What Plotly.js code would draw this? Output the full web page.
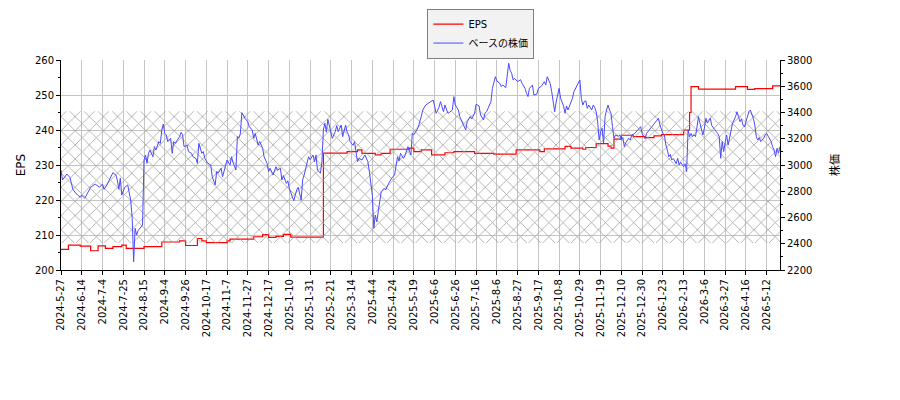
<!DOCTYPE html>
<html>
<head>
<meta charset="utf-8">
<script src="https://cdn.plot.ly/plotly-3.0.1.min.js"></script>
<style>
  html, body { margin: 0; padding: 0; background: #fff; }
  #chart { width: 900px; height: 400px; }
</style>
</head>
<body>
<div id="chart"></div>
<script>
/* ---- tick labels (one every 14 trading days) ---- */
const tickLabels = [
  "2024-5-27", "2024-6-14", "2024-7-4", "2024-7-25", "2024-8-15", "2024-9-4",
  "2024-9-26", "2024-10-17", "2024-11-7", "2024-11-27", "2024-12-17", "2025-1-10",
  "2025-1-31", "2025-2-21", "2025-3-14", "2025-4-4", "2025-4-24", "2025-5-19",
  "2025-6-6", "2025-6-26", "2025-7-16", "2025-8-6", "2025-8-27", "2025-9-17",
  "2025-10-8", "2025-10-29", "2025-11-19", "2025-12-10", "2025-12-30", "2026-1-23",
  "2026-2-13", "2026-3-6", "2026-3-27", "2026-4-16", "2026-5-12"
];
const tickStep = 14;
const lastDay = 485;

/* ---- stock price (trading day index, yen) ---- */
const priceDay = [
  0, 1, 4, 6, 8, 10, 13, 14, 16, 18, 20, 23, 25, 26, 28, 29, 31, 34, 35, 37,
  38, 39, 40, 41, 43, 45, 46, 47, 48, 49, 50, 51, 52, 54, 55, 56, 57, 58, 59, 60,
  62, 63, 64, 66, 67, 68, 69, 70, 71, 72, 74, 75, 76, 77, 80, 81, 82, 83, 85, 86,
  88, 89, 91, 92, 93, 95, 96, 97, 99, 101, 102, 104, 105, 106, 108, 109, 111, 112, 114, 115,
  116, 118, 119, 120, 121, 122, 124, 126, 127, 129, 130, 131, 133, 134, 136, 137, 139, 140, 141, 143,
  145, 146, 148, 149, 150, 152, 153, 154, 156, 157, 159, 160, 162, 163, 164, 166, 167, 168, 170, 171,
  172, 173, 175, 176, 177, 178, 179, 180, 181, 183, 185, 186, 187, 189, 190, 192, 193, 194, 195, 196,
  197, 198, 200, 201, 203, 205, 207, 208, 209, 210, 211, 212, 213, 215, 216, 218, 219, 221, 223, 225,
  226, 227, 228, 229, 231, 232, 234, 235, 236, 237, 238, 240, 241, 243, 244, 246, 248, 250, 251, 252,
  253, 255, 256, 258, 259, 261, 262, 264, 265, 266, 268, 269, 271, 273, 274, 276, 277, 279, 280, 282,
  283, 285, 286, 287, 288, 290, 291, 293, 294, 296, 297, 298, 300, 301, 302, 303, 304, 305, 306, 308,
  310, 311, 313, 314, 315, 316, 317, 318, 319, 321, 322, 324, 326, 327, 328, 330, 331, 332, 333, 334,
  335, 336, 337, 339, 340, 341, 342, 343, 345, 346, 347, 349, 350, 351, 352, 353, 354, 355, 356, 358,
  359, 360, 361, 362, 363, 364, 365, 366, 367, 368, 369, 370, 371, 372, 373, 374, 376, 377, 378, 379,
  380, 381, 383, 384, 385, 387, 389, 391, 392, 393, 394, 395, 397, 398, 400, 402, 403, 404, 405, 406,
  407, 408, 409, 410, 411, 412, 413, 414, 415, 416, 417, 418, 419, 420, 421, 422, 423, 424, 425, 426,
  427, 428, 429, 430, 431, 432, 433, 434, 435, 436, 438, 439, 440, 441, 442, 443, 444, 445, 446, 447,
  448, 449, 450, 451, 452, 453, 455, 456, 457, 458, 459, 460, 461, 463, 464, 465, 466, 467, 468, 469,
  470, 471, 472, 474, 475, 476, 477, 478, 479, 480, 481, 482, 483, 484, 485
];
const price = [
  2962, 2886, 2931, 2906, 2815, 2784, 2754, 2771, 2746, 2784, 2830, 2855, 2840, 2830, 2855, 2815, 2848, 2916, 2941, 2924,
  2886, 2815, 2899, 2771, 2830, 2848, 2797, 2733, 2600, 2263, 2518, 2467, 2500, 2535, 2543, 3038, 3076, 3013, 3089, 3114,
  3063, 3140, 3114, 3178, 3165, 3267, 3312, 3241, 3229, 3178, 3203, 3089, 3178, 3165, 3216, 3249, 3230, 3140, 3152, 3102,
  3089, 3063, 3050, 3013, 3165, 3089, 3102, 3051, 3013, 3000, 2911, 2848, 2950, 2937, 2975, 2911, 2987, 3038, 3000, 3063,
  3020, 2962, 3216, 3205, 3241, 3399, 3356, 3330, 3292, 3267, 3203, 3241, 3152, 3180, 3127, 3063, 3013, 2950, 2975, 2924,
  2987, 2960, 2975, 2886, 2920, 2860, 2880, 2822, 2759, 2728, 2810, 2830, 2733, 2886, 2924, 3013, 3063, 3040, 3076, 3025,
  3076, 2962, 2937, 3025, 3267, 3318, 3250, 3348, 3300, 3203, 3254, 3300, 3254, 3305, 3216, 3305, 3250, 3230, 3178, 3165,
  3150, 3178, 3025, 3050, 3038, 3076, 3025, 2950, 2873, 2771, 2518, 2619, 2568, 2720, 2797, 2822, 2810, 2860, 2899, 2924,
  3000, 3063, 3030, 3089, 3051, 3070, 3140, 3110, 3076, 3241, 3230, 3267, 3290, 3368, 3419, 3457, 3470, 3483, 3495, 3450,
  3394, 3440, 3483, 3406, 3457, 3394, 3400, 3420, 3521, 3457, 3420, 3368, 3318, 3267, 3330, 3368, 3350, 3394, 3463, 3450,
  3381, 3343, 3394, 3406, 3430, 3483, 3584, 3673, 3640, 3622, 3597, 3610, 3589, 3686, 3775, 3720, 3698, 3648, 3660, 3635,
  3650, 3622, 3584, 3546, 3521, 3584, 3597, 3610, 3533, 3540, 3584, 3600, 3635, 3610, 3673, 3620, 3559, 3457, 3406, 3480,
  3533, 3584, 3508, 3450, 3394, 3450, 3419, 3450, 3508, 3559, 3584, 3635, 3648, 3508, 3457, 3483, 3490, 3432, 3457, 3419,
  3457, 3440, 3406, 3330, 3190, 3254, 3280, 3165, 3368, 3419, 3457, 3419, 3394, 3292, 3203, 3229, 3220, 3229, 3190, 3210,
  3140, 3170, 3203, 3190, 3229, 3240, 3267, 3292, 3240, 3216, 3200, 3241, 3270, 3292, 3318, 3343, 3356, 3305, 3270, 3241,
  3230, 3152, 3114, 3063, 3080, 3038, 3050, 3025, 3010, 3051, 3000, 3020, 3000, 2987, 3010, 2950, 3267, 3216, 3240, 3216,
  3230, 3216, 3290, 3368, 3318, 3280, 3229, 3280, 3356, 3320, 3356, 3300, 3279, 3270, 3254, 3240, 3216, 3051, 3178, 3102,
  3170, 3229, 3152, 3200, 3254, 3318, 3368, 3406, 3368, 3330, 3350, 3305, 3290, 3368, 3406, 3419, 3390, 3356, 3305, 3216,
  3190, 3210, 3178, 3203, 3229, 3241, 3220, 3203, 3180, 3140, 3114, 3063, 3127, 3090, 3140
];

/* ---- EPS (step values, trading day index where each level starts) ---- */
const epsDay = [
  0, 5, 13, 20, 25, 30, 35, 41, 44, 56, 68, 80, 84, 92, 95, 98, 112, 114, 130, 136,
  140, 145, 150, 155, 176, 177, 193, 200, 203, 212, 216, 222, 235, 238, 243, 250, 259, 265, 279, 292,
  307, 323, 326, 340, 344, 352, 354, 361, 369, 371, 373, 378, 386, 394, 400, 405, 420, 424, 425, 430,
  455, 463, 468, 480, 485
];
const eps = [
  205.9, 207.1, 206.8, 205.5, 206.9, 206.2, 206.7, 207.1, 206.2, 206.7, 208.0, 208.3, 207.0, 209.0, 208.3, 207.8, 208.3, 208.8, 209.5, 210.1,
  209.3, 209.6, 210.2, 209.4, 209.4, 233.4, 233.8, 234.3, 233.3, 232.9, 233.3, 234.5, 234.8, 233.8, 234.3, 232.9, 233.5, 233.8, 233.3, 233.1,
  234.3, 233.8, 234.6, 235.3, 234.8, 234.5, 235.0, 236.1, 235.4, 234.8, 237.4, 238.5, 238.1, 237.8, 238.3, 238.7, 240.0, 245.0, 252.4, 251.7,
  252.4, 251.6, 251.8, 252.6, 252.6
];

/* ---- hatched price band (yen) ---- */
const bandLow = 2405;
const bandHigh = 3410;

window.addEventListener("DOMContentLoaded", () => {

  const tickVals = tickLabels.map((_, k) => k * tickStep);

  const band = {
    x: [0, lastDay, lastDay, 0, 0],
    y: [bandLow, bandLow, bandHigh, bandHigh, bandLow],
    yaxis: "y2",
    mode: "lines",
    fill: "toself",
    fillcolor: "rgba(0,0,0,0)",
    fillpattern: { shape: "x", fgcolor: "#a0a0a0", bgcolor: "rgba(0,0,0,0)", size: 10, solidity: 0.15 },
    line: { width: 0 },
    showlegend: false,
    hoverinfo: "skip"
  };

  const epsTrace = {
    x: epsDay, y: eps,
    name: "EPS",
    mode: "lines",
    line: { color: "#ff0000", width: 1.2, shape: "hv" }
  };

  const priceTrace = {
    x: priceDay, y: price,
    name: "ベースの株価",
    yaxis: "y2",
    mode: "lines",
    line: { color: "#4a4aff", width: 1 }
  };

  const axisCommon = {
    showline: true, linecolor: "#000", linewidth: 1,
    ticks: "outside", ticklen: 4, tickcolor: "#000",
    zeroline: false
  };

  const layout = {
    width: 900, height: 400,
    margin: { l: 61, r: 120, t: 60, b: 130, autoexpand: false },
    paper_bgcolor: "#fff", plot_bgcolor: "#fff",
    font: { family: "DejaVu Sans, Noto Sans CJK JP", size: 10, color: "#000" },
    legend: {
      x: 0.584, xanchor: "center", y: 1.245, yanchor: "top",
      bgcolor: "#f2f2f2", bordercolor: "#808080", borderwidth: 1,
      font: { size: 10 }, tracegroupgap: 0
    },
    xaxis: Object.assign({}, axisCommon, {
      range: [0, lastDay],
      tickmode: "array", tickvals: tickVals, ticktext: tickLabels,
      tickangle: -90,
      showgrid: true, gridcolor: "#c4c4c4", gridwidth: 1
    }),
    yaxis: Object.assign({}, axisCommon, {
      range: [200, 260], tick0: 200, dtick: 10,
      showgrid: true, gridcolor: "#c4c4c4", gridwidth: 1,
      minor: { dtick: 5, ticklen: 2, tickcolor: "#000", showgrid: false },
      title: { text: "EPS", standoff: 6 }
    }),
    yaxis2: Object.assign({}, axisCommon, {
      overlaying: "y", side: "right",
      range: [2200, 3800], tick0: 2200, dtick: 200,
      showgrid: false,
      minor: { dtick: 100, ticklen: 2, tickcolor: "#000", showgrid: false }
    }),
    annotations: [{
      text: "株価", textangle: -90,
      xref: "paper", yref: "paper", x: 1.0765, y: 0.5,
      xanchor: "center", yanchor: "middle", showarrow: false,
      font: { size: 11 }
    }]
  };

  Plotly.newPlot("chart", [band, epsTrace, priceTrace], layout, { displayModeBar: false, staticPlot: true });
});
</script>
</body>
</html>
